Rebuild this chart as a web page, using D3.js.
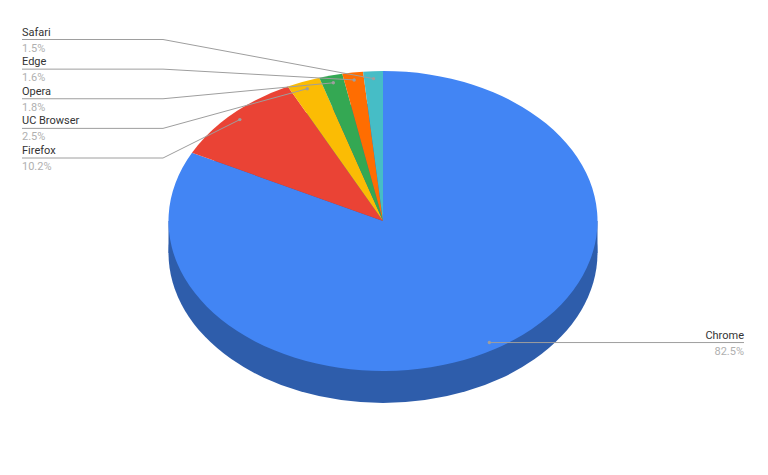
<!DOCTYPE html>
<html>
<head>
<meta charset="utf-8">
<style>
  html, body { margin: 0; padding: 0; background: #fff; }
  svg { display: block; }
  text { font-family: Roboto, sans-serif; font-size: 11px; }
</style>
</head>
<body>
<script src="https://cdn.jsdelivr.net/npm/d3@7"></script>
<script>
const browsers = ['Chrome', 'Firefox', 'UC Browser', 'Opera', 'Edge', 'Safari'];
// unrounded estimates, the labels show them to one decimal
const shares = [82.52, 10.16, 2.52, 1.76, 1.56, 1.48];
const colors = ['#4285f4', '#ea4335', '#fbbc04', '#34a853', '#ff6d01', '#46bdc6'];
const sideColor = '#2e5dab';
const leftLabels = ['Safari', 'Edge', 'Opera', 'UC Browser', 'Firefox'];

let dim = { width: 768, height: 475 };
let cx = 383, cy = 221, rx = 214.5, ry = 150, depth = 32;

let svg = d3.select('body').append('svg').attr('width', dim.width).attr('height', dim.height);

let slices = d3.pie().sort(null).value((d) => d)(shares);
let arc = d3.arc().innerRadius(0).outerRadius(rx);
let dotArc = d3.arc().innerRadius(rx * 0.95).outerRadius(rx * 0.95);
let squash = ry / rx;

// side wall: lower ellipse plus the band joining it to the top face
let side = svg.append('g').attr('fill', sideColor);
side.append('rect').attr('x', cx - rx).attr('y', cy).attr('width', rx * 2).attr('height', depth);
side
  .append('path')
  .attr('transform', `translate(${cx},${cy + depth}) scale(1,${squash})`)
  .attr('d', arc({ startAngle: 0, endAngle: Math.PI * 2 }));

// top face
svg
  .append('g')
  .attr('transform', `translate(${cx},${cy}) scale(1,${squash})`)
  .selectAll('path')
  .data(slices)
  .enter()
  .append('path')
  .attr('fill', (d, i) => colors[i])
  .attr('d', arc);

function anchor(name) {
  let c = dotArc.centroid(slices[browsers.indexOf(name)]);
  return [cx + c[0], cy + c[1] * squash];
}

let labelY = d3.scalePoint().domain(leftLabels).range([39.5, 158]);
let elbowX = 163, leftX = 22, rightX = 744;
let lineColor = '#9e9e9e', nameColor = '#333', valueColor = '#b0b0b0';
let line = d3.line();

function drawLabel(name, points, x, y, textAnchor) {
  let a = points[points.length - 1];
  svg
    .append('path')
    .attr('d', line(points))
    .attr('fill', 'none')
    .attr('stroke', lineColor)
    .attr('stroke-width', 1);
  svg.append('circle').attr('cx', a[0]).attr('cy', a[1]).attr('r', 1.7).attr('fill', lineColor);
  svg
    .append('text')
    .attr('x', x)
    .attr('y', y - 4)
    .attr('text-anchor', textAnchor)
    .attr('fill', nameColor)
    .text(name);
  svg
    .append('text')
    .attr('x', x)
    .attr('y', y + 12)
    .attr('text-anchor', textAnchor)
    .attr('fill', valueColor)
    .text(shares[browsers.indexOf(name)].toFixed(1) + '%');
}

leftLabels.forEach((name) => {
  let y = labelY(name);
  drawLabel(name, [[leftX, y], [elbowX, y], anchor(name)], leftX, y, 'start');
});

let chromeAnchor = anchor('Chrome');
drawLabel('Chrome', [[rightX, chromeAnchor[1]], chromeAnchor], rightX, chromeAnchor[1], 'end');
</script>
</body>
</html>
